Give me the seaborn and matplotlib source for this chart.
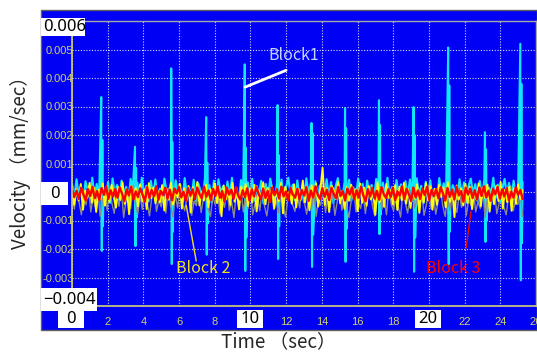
import numpy as np
import pandas as pd
import matplotlib
matplotlib.use("Agg")
import matplotlib.pyplot as plt
import seaborn as sns
from matplotlib.patches import Rectangle

# Datos (velocidad en unidades de 1e-5 mm/sec para el ruido)
spike_t = np.array([1.64, 3.53, 5.56, 7.52, 9.68, 11.52, 13.42, 15.30, 17.20, 19.14, 21.08, 23.14, 25.12])
spike_hi = [0.00333, 0.00159, 0.00434, 0.00263, 0.00448, 0.00305, 0.00242, 0.00295, 0.00322, 0.00298, 0.00507, 0.00210, 0.00520]
spike_lo = [-0.00207, -0.00190, -0.00253, -0.00220, -0.00277, -0.00235, -0.00263, -0.00245, -0.00148, -0.00280, -0.00253, -0.00175, -0.00310]
spike_hi2 = [0.00183, 0.00085, 0.00176, 0.00103, 0.00155, 0.00130, 0.00207, 0.00224, 0.00235, 0.00200, 0.00374, 0.00150, 0.00380]
spike_lo2 = [-0.0012, -0.0009, -0.0014, -0.0011, -0.0016, -0.0012, -0.0015, -0.0013, -0.0008, -0.0016, -0.0014, -0.0010, -0.0018]

cyan_base = [
    30, -25, 45, -10, 20, -35, 38, 5, -20, 50, -15, 28, -30, 42, 0, -22, 35, -38, 48, -5,
    25, -28, 40, -12, 18, -36, 46, 8, -18, 33, -26, 50, -8, 22, -32, 39, -14, 44, -24, 12,
    -34, 47, 2, -20, 36, -29, 41, -6, 27, -38, 49, -11, 16, -25, 43, -33, 31, 6, -17, 48,
    -9, 24, -37, 40, -21, 45, -3, 19, -30, 37, -16, 50, -27, 14, -35, 42, 9, -23, 34, -12,
    46, -31, 21, -7, 39, -40, 28, -19, 47, 4, -26, 32, -14, 44, -34, 17, 50, -10, 26, -29,
    41, -22, 11, -36, 48, -4, 30, -18, 38, -32, 23, 7, -27, 45, -13, 35, -39, 20, 49, -8,
    -24, 36, -15, 43, -30, 13, -21, 47, -2, 29, -37, 40, -11, 25, -28, 46, 3, -33, 33, -17,
    50, -20, 18, -35, 42, -6, 27, -26, 38, -12, 44, -31, 15, 48, -9, 22, -38, 36, -16, 41,
    -23, 10, -34, 49, -5, 31, -19, 37, -29, 24, 1, -25, 45, -14, 34, -36, 21, 47, -7, 28,
    -32, 39, -18, 43, -27, 16, -3, 50, -22, 26, -35, 12, 46, -10, 32, -30, 40, -15, 8, -24, 35,
]

gray_noise = [
    -10, -60, 15, -35, -80, 5, -45, 20, -70, -15, -55, 10, -85, -25, 0, -65, 18, -40, -75, -5,
    -50, 12, -90, -30, 8, -58, 22, -42, -78, -12, -62, 6, -36, -84, -20, 16, -68, -28, -52, 2,
    -74, 14, -46, -88, -8, -56, 24, -38, -66, -18, 10, -82, -32, -48, 4, -72, -22, 20, -60, -86,
    -14, -44, 8, -76, -26, -54, 18, -64, -34, -90, 0, -50, 12, -70, -16, -58, 22, -80, -40, -10,
    -66, 6, -48, -84, -24, 16, -62, -30, -74, 2, -52, -88, -20, 14, -44, -68, -6, -56, 24, -36,
    -78, -12, -60, 10, -86, -28, -46, 20, -72, -18, -54, 4, -82, -34, 12, -64, -8, -50, -90, -26,
    18, -70, -38, -58, 0, -76, -16, 22, -48, -84, -30, 8, -62, -22, -80, 14, -42, -66, -10, -52,
    -88, 6, -36, -74, -20, 16, -56, -28, -68, 2, -82, -44, 24, -60, -14, -78, -32, 10, -50, -86,
    -18, -64, 12, -40, -72, -4, -54, 20, -84, -26, -46, 8, -70, -34, -58, 18, -90, -24, -62, -12,
    4, -76, -38, 14, -52, -80, -16, 22, -66, -30, -44, 0, -86,
]

yellow_noise = [
    20, -45, 10, -30, 28, -62, 5, -20, 32, -38, 15, -70, 8, -25, 30, -48, 12, -35, 25, -15,
    -55, 18, -28, 34, -42, 6, -78, 22, -18, 14, -50, 27, -33, 9, -60, 31, -22, 16, -40, 4,
    -36, 24, -65, 11, -27, 33, -44, 7, -19, 29, -58, 13, -31, 21, -72, 17, -24, 35, -47, 2,
    -30, 26, -53, 10, -20, 30, -39, 15, -85, 23, -26, 8, -46, 32, -34, 5, -61, 19, -17, 28,
    -49, 12, -37, 25, -68, 6, -23, 34, -43, 14, -29, 20, -57, 9, -32, 31, -75, 18, -21, 3,
    -41, 27, -54, 11, -28, 40, -36, 16, -64, 24, -19, 30, -51, 7, 85, -46, 13, -70, 22, 10,
    -25, 35, -40, 4, -59, 17, -31, 26, -22, 10, -67, 30, -38, 15, -48, 21, -27, 8, -80, 33,
    -35, 12, -52, 28, -20, 6, -44, 24, -63, 18, -29, 32, -41, 9, -56, 14, -24, 27, -73, 5,
    -37, 31, -30, 20, -62, 11, -45, 25, -18, 16, -54, 34, -34, 7, -88, 23, -26, 13, -47, 29,
    -39, 19, -60, 3, -28, 30, -50, 15, -21, 26, -69, 10, -43, 22, -32, 35, -58, 8, -36, 18,
    -66, 12, -42, 27, -25, 6,
]

red_noise = [
    12, -18, 5, -25, 15, -8, -30, 10, -14, 18, -22, 3, -28, 14, -10, 20, -24, 6, -16, 11,
    -20, 16, -6, -32, 9, -12, 19, -26, 2, -18, 13, -9, -34, 17, -21, 7, -15, 20, -27, 4,
    -11, 15, -23, 8, -29, 12, -5, 18, -19, 1, -31, 14, -13, 10, -25, 16, -7, -22, 19, -17,
    5, -28, 11, -14, 20, -20, 3, -33, 15, -9, 8, -24, 17, -12, -27, 6, -18, 13, -30, 9,
    -16, 18, -6, -26, 12, -21, 4, -35, 16, -11, 10, -23, 19, -15, 2, -29, 14, -8, -20, 11,
    -25, 7, -13, 17, -31, 5, -19, 20, -10, -24, 13, -17, 8, -28, 15, -6, -22, 18, -14, 3,
    -30, 12, -9, 16, -26, 6, -20, 19, -12, -33, 10, -16, 14, -23, 4, -27, 17, -8, -21, 9,
    -18, 15, -29, 2, -13, 20, -25, 11, -7, -32, 16, -19, 5, -24, 13, -11, 18, -28, 7, -15,
    10, -22, 17, -5, -30, 14, -17, 8, -26, 19, -12, 3, -34, 15, -9, 12, -21, 6, -27, 16,
    -14, 20, -19, 4, -31, 11, -8, 18, -23, 9, -16, 13, -29, 1, -20, 17, -10, 7, -25,
]

T_END = 25.25
x_ticks = list(range(0, 27, 2))
x_ticklabels = ['' if t in (0, 10, 20) else str(t) for t in x_ticks]
y_ticks = [-0.004, -0.003, -0.002, -0.001, 0, 0.001, 0.002, 0.003, 0.004, 0.005, 0.006]
y_ticklabels = ['', '-0.003', '-0.002', '-0.001', '', '0.001', '0.002', '0.003', '0.004', '0.005', '']

BLUE = '#0000f5'
KHAKI = '#d2d272'


def series(vals):
    v = np.array(vals) * 1e-5
    return pd.DataFrame({'t': np.linspace(0, T_END, len(v)), 'v': v})


# Serie cian = ruido base + picos
cy = series(cyan_base)
sp = pd.DataFrame({
    't': np.concatenate([spike_t, spike_t + 0.03, spike_t + 0.06, spike_t + 0.09]),
    'v': np.concatenate([spike_hi, spike_lo, spike_hi2, spike_lo2]),
})
cy = pd.concat([cy, sp]).sort_values('t', kind='stable').reset_index(drop=True)

sns.set_style('white')
plt.rcParams['font.family'] = ['Noto Sans CJK JP', 'DejaVu Sans']

W, H = 537, 352
fig = plt.figure(figsize=(W / 100, H / 100), dpi=100)


def fx(px):
    return px / W


def fy(py):
    return 1 - py / H


# marco azul exterior
fig.add_artist(Rectangle((fx(41), fy(330)), fx(537) - fx(41), fy(10) - fy(330),
                         facecolor=BLUE, edgecolor='#606060', lw=1, zorder=-1))

ax = fig.add_axes([fx(72), fy(306), fx(536) - fx(72), fy(21) - fy(306)])
ax.set_facecolor(BLUE)

sns.lineplot(data=cy, x='t', y='v', ax=ax, color='#12e6fa', lw=1.5, estimator=None, sort=False)
sns.lineplot(data=series(gray_noise), x='t', y='v', ax=ax, color='#8a8a8a', lw=1.0, estimator=None, sort=False)
sns.lineplot(data=series(yellow_noise), x='t', y='v', ax=ax, color='#ffff00', lw=1.4, estimator=None, sort=False)
sns.lineplot(data=series(red_noise), x='t', y='v', ax=ax, color='#ff0000', lw=1.7, estimator=None, sort=False)

ax.set_xlim(0, 26)
ax.set_ylim(-0.004, 0.006)
ax.set_xlabel('')
ax.set_ylabel('')
ax.set_xticks(x_ticks)
ax.set_xticklabels(x_ticklabels, color=KHAKI, fontsize=8, family='Liberation Sans')
ax.set_yticks(y_ticks)
ax.set_yticklabels(y_ticklabels, color=KHAKI, fontsize=8, family='Liberation Sans')
ax.tick_params(axis='x', length=0, pad=8)
ax.tick_params(axis='y', length=0, pad=-1)
ax.grid(True, color='white', linestyle=(0, (1, 1.5)), lw=0.8, alpha=0.85)
for s in ['left', 'bottom']:
    ax.spines[s].set_color(KHAKI)
    ax.spines[s].set_linewidth(1.2)
for s in ['top', 'right']:
    ax.spines[s].set_color('#a8a8a8')
    ax.spines[s].set_linewidth(1.0)

# anotaciones
ax.plot([9.7, 12.0], [0.00368, 0.00427], color='white', lw=2)
ax.text(11.0, 0.0048, 'Block1', color='#c4d4ff', fontsize=11.5, va='center', ha='left')
ax.plot([6.4, 6.96], [-0.00047, -0.00242], color='#f0e020', lw=1)
ax.text(5.85, -0.0027, 'Block 2', color='#f0e020', fontsize=11.5, va='center', ha='left')
ax.plot([22.36, 22.08], [-0.00067, -0.00197], color='#ff0000', lw=1)
ax.text(19.85, -0.0027, 'Block 3', color='#ff0000', fontsize=11.5, va='center', ha='left')

# etiquetas grandes en cajas blancas
boxes = [
    (41, 18, 85, 36, '0.006', 'left'),
    (41, 182, 68, 205, '0', 'center'),
    (41, 288, 97, 311, '\u22120.004', 'left'),
    (58, 310, 84, 328, '0', 'center'),
    (237, 310, 263, 328, '10', 'center'),
    (415, 310, 441, 328, '20', 'center'),
]
for x0, y0, x1, y1, txt, ha in boxes:
    fig.add_artist(Rectangle((fx(x0), fy(y1)), fx(x1) - fx(x0), fy(y0) - fy(y1),
                             facecolor='white', edgecolor='none', zorder=5))
    tx = fx(x0 + 2) if ha == 'left' else fx((x0 + x1) / 2)
    fig.text(tx, fy((y0 + y1) / 2), txt, ha=ha, va='center', fontsize=12,
             color='black', family='Noto Sans', zorder=6)

fig.text(fx(20), fy(158), 'Velocity （mm/sec）', rotation=90, ha='center', va='center', fontsize=13.5)
fig.text(fx(278), fy(342), 'Time （sec）', ha='center', va='center', fontsize=13.5)

fig.savefig('out.png', dpi=100)
